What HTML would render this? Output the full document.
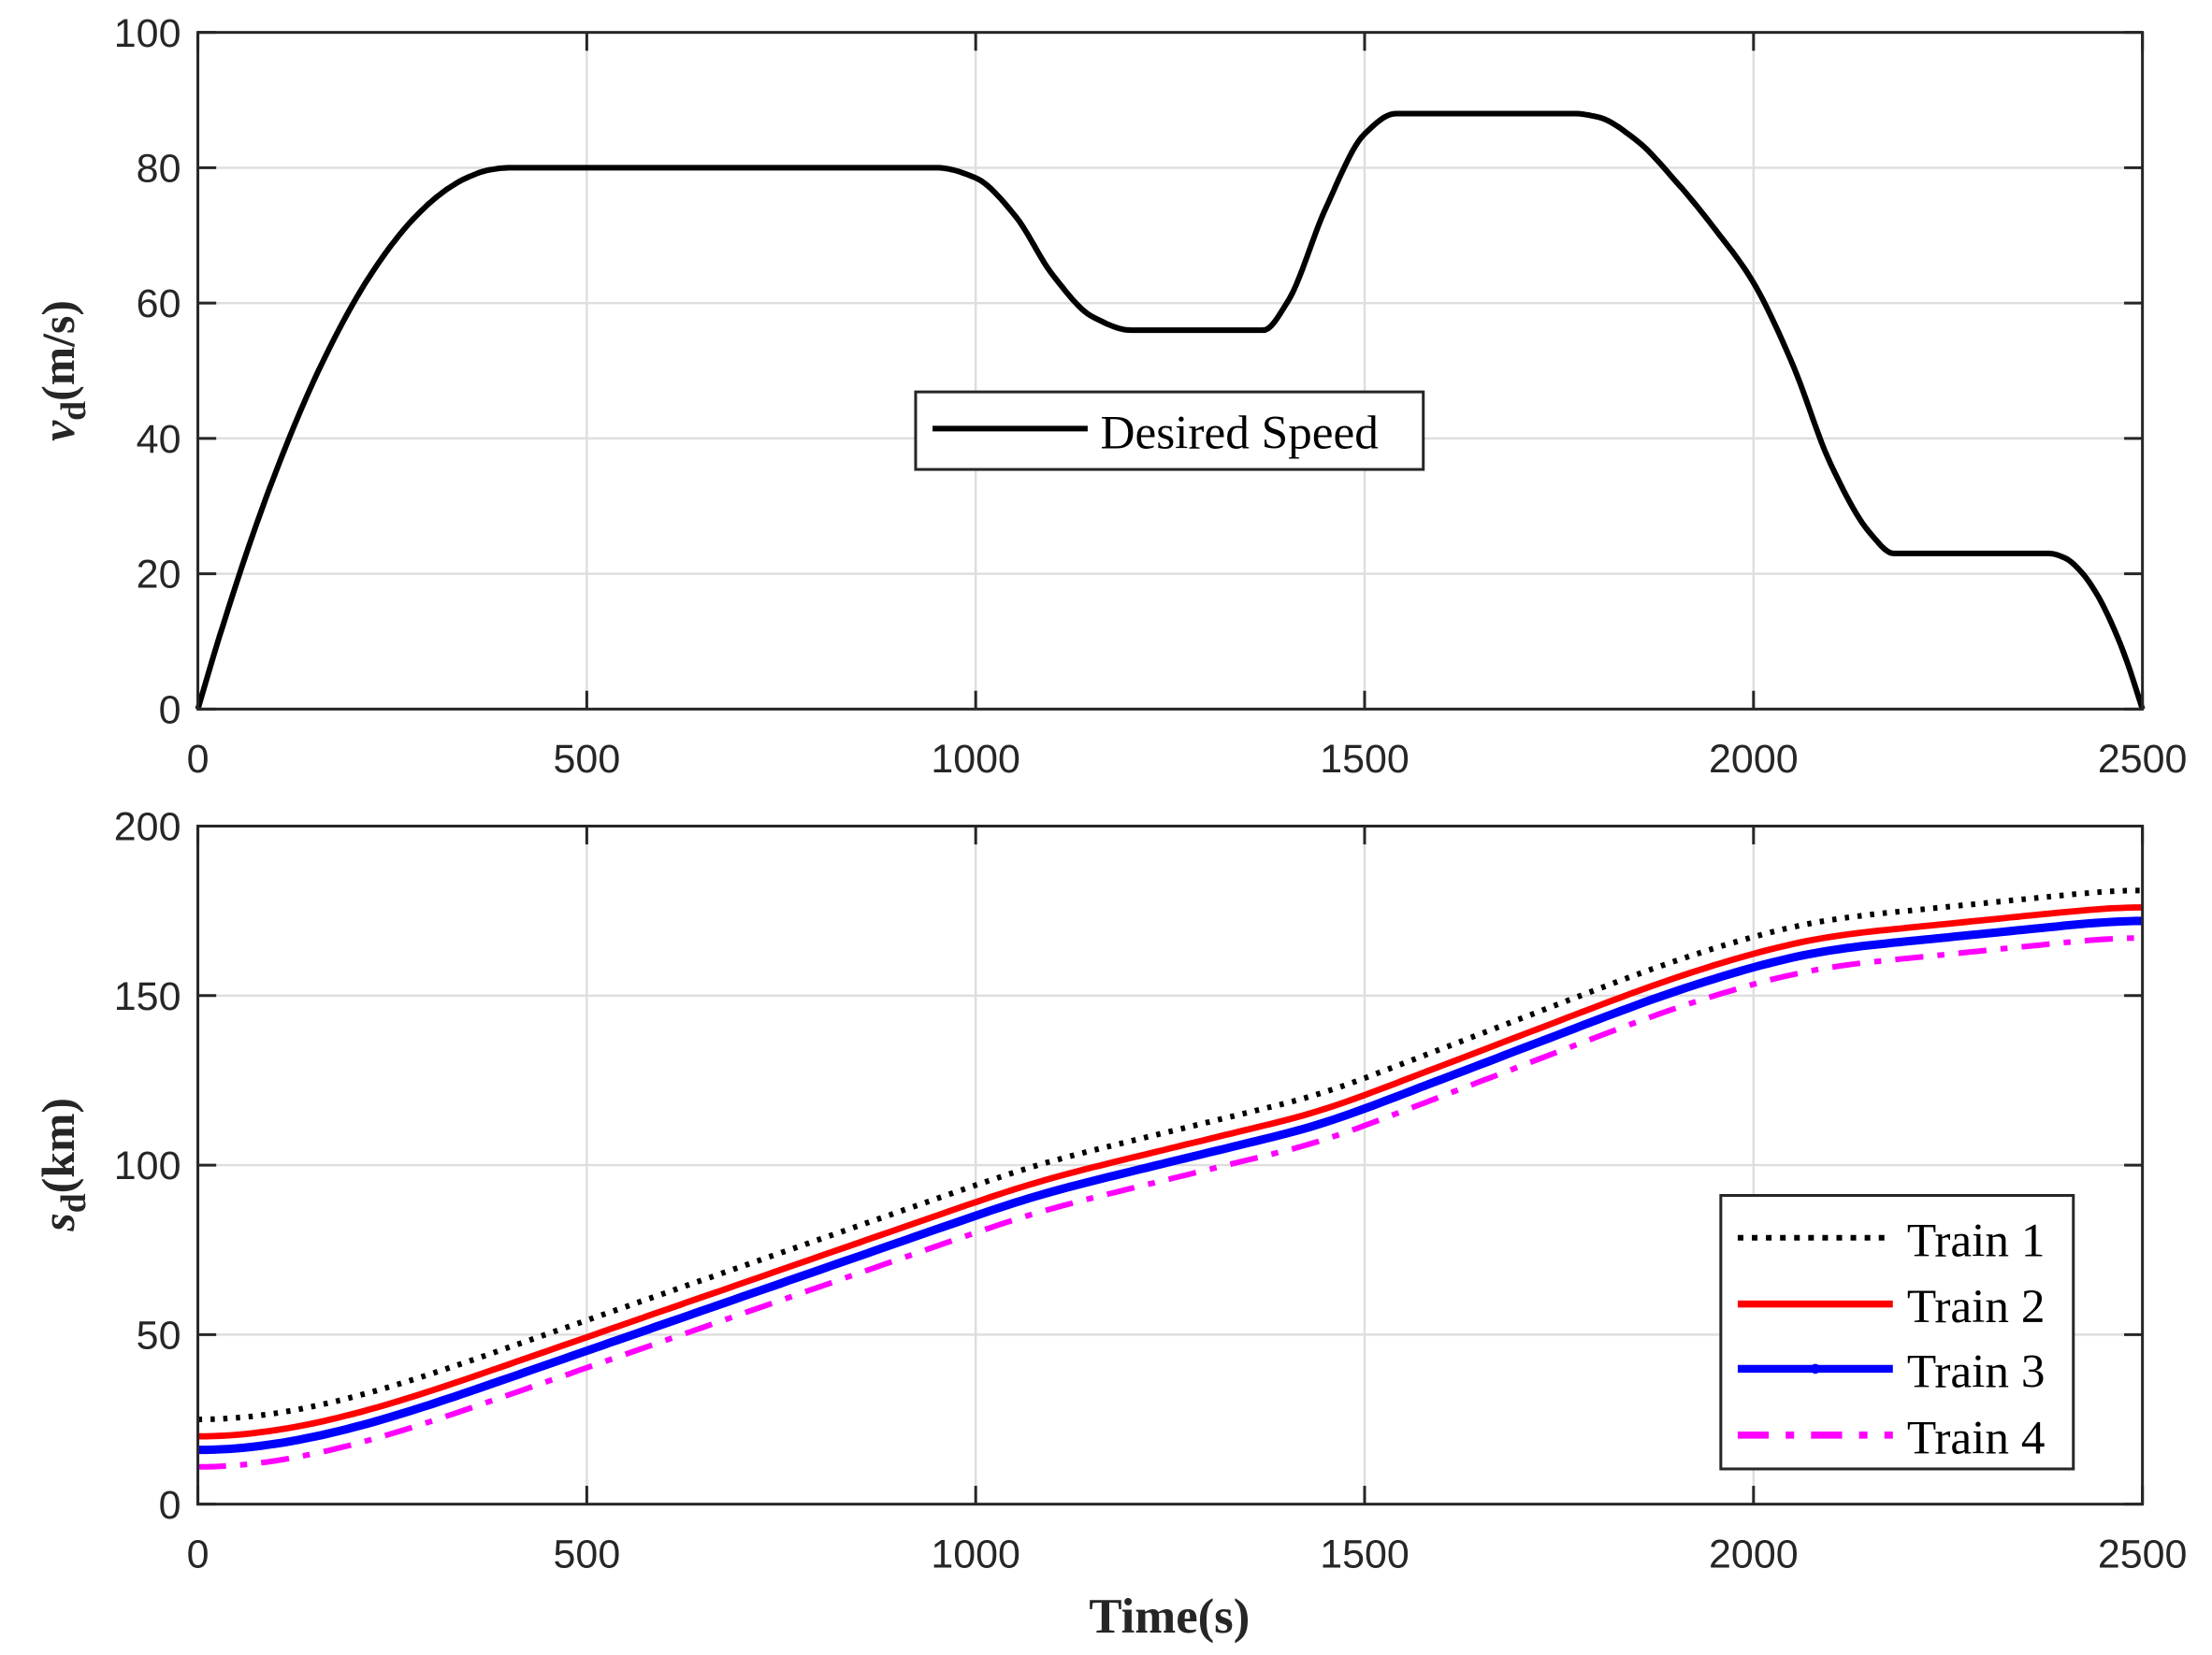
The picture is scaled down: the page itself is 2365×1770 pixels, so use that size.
<!DOCTYPE html>
<html><head><style>html,body{margin:0;padding:0;background:#fff}svg{display:block}</style></head>
<body>
<svg id="s" width="2365" height="1770" viewBox="0 0 1568 1174" xmlns="http://www.w3.org/2000/svg">
<rect width="1568" height="1174" fill="#fff"/>
<g id="grid" stroke="#dedede" stroke-width="1.6"></g>
<g id="curves" fill="none" stroke-linejoin="round"></g>
<g id="axes" stroke="#262626" stroke-width="2" fill="none"></g>
<g id="labels" font-family="Liberation Sans, sans-serif" font-size="28.5" fill="#262626"></g>
<g font-family="Liberation Serif, serif" font-weight="bold" font-size="33" fill="#262626">
<text transform="translate(52,263) rotate(-90)" text-anchor="middle"><tspan font-style="italic">v</tspan><tspan font-size="25" dy="8">d</tspan><tspan dy="-8">(m/s)</tspan></text>
<text transform="translate(52,826) rotate(-90)" text-anchor="middle"><tspan font-style="italic">s</tspan><tspan font-size="25" dy="8">d</tspan><tspan dy="-8">(km)</tspan></text>
<text x="829" y="1158" font-size="35" text-anchor="middle">Time(s)</text>
</g>
<g font-family="Liberation Serif, serif" font-size="34" fill="#000">
<rect x="649" y="278" width="360" height="55" fill="#fff" stroke="#262626" stroke-width="2"/>
<line x1="661" y1="304" x2="771" y2="304" stroke="#000" stroke-width="4"/>
<text x="780" y="318">Desired Speed</text>
<rect x="1220" y="848" width="250" height="194" fill="#fff" stroke="#262626" stroke-width="2"/>
<line x1="1232" y1="878" x2="1342" y2="878" stroke="#000" stroke-width="4" stroke-dasharray="4,6"/>
<text x="1352" y="891">Train 1</text>
<line x1="1232" y1="925" x2="1342" y2="925" stroke="#f00" stroke-width="5"/>
<text x="1352" y="938">Train 2</text>
<line x1="1232" y1="971" x2="1342" y2="971" stroke="#00f" stroke-width="5.5"/>
<circle cx="1287" cy="971" r="3.5" fill="#00f"/>
<text x="1352" y="984">Train 3</text>
<line x1="1232" y1="1018" x2="1342" y2="1018" stroke="#f0f" stroke-width="5" stroke-dasharray="22,12,6,12"/>
<text x="1352" y="1031">Train 4</text>
</g>
</svg>
<script>
const NS="http://www.w3.org/2000/svg";
function el(p,t,a){const e=document.createElementNS(NS,t);for(const k in a)e.setAttribute(k,a[k]);document.getElementById(p).appendChild(e);return e;}
const X0=140,X1=1519;const tx=t=>X0+t*(X1-X0)/2500;
const T=[[23,503,100,20],[586,1067,200,50]];
T.forEach(([yt,yb,ymax,step])=>{
 for(let t=500;t<2500;t+=500)el('grid','line',{x1:tx(t),x2:tx(t),y1:yt,y2:yb});
 for(let v=step;v<ymax;v+=step){const y=yb-v*(yb-yt)/ymax;el('grid','line',{x1:X0,x2:X1,y1:y,y2:y});}
 el('axes','rect',{x:X0,y:yt,width:X1-X0,height:yb-yt});
 for(let t=0;t<=2500;t+=500){const x=tx(t);el('axes','line',{x1:x,x2:x,y1:yb,y2:yb-13});el('axes','line',{x1:x,x2:x,y1:yt,y2:yt+13});
  const e=el('labels','text',{x:x,y:yb+45,'text-anchor':'middle'});e.textContent=t;}
 for(let v=0;v<=ymax;v+=step){const y=yb-v*(yb-yt)/ymax;el('axes','line',{x1:X0,x2:X0+13,y1:y,y2:y});el('axes','line',{x1:X1,x2:X1-13,y1:y,y2:y});
  const e=el('labels','text',{x:X0-12,y:y+10,'text-anchor':'end'});e.textContent=v;}
});
const P=[];
for(let t=0;t<400;t+=25)P.push([t,80*(1-Math.pow(1-t/400,2))]);
[[400,80],[950,80],[1000,78.5],[1050,73],[1100,64],[1150,58],[1200,56],[1370,56],[1400,60],[1450,74],[1500,85],[1540,88],[1770,88],[1800,87.5],[1850,84],[1900,78],[1950,71],[2000,63],[2050,51],[2100,36],[2150,26],[2180,23],[2380,23]].forEach(p=>P.push(p));
for(let t=2400;t<=2500;t+=20)P.push([t,23*(1-Math.pow((t-2380)/120,2))]);
const n=P.length,h=[],d=[],m=new Array(n).fill(0);
for(let i=0;i<n-1;i++){h[i]=P[i+1][0]-P[i][0];d[i]=(P[i+1][1]-P[i][1])/h[i];}
m[0]=d[0];m[n-1]=d[n-2];
for(let i=1;i<n-1;i++){if(d[i-1]*d[i]<=0)m[i]=0;else{const w1=2*h[i]+h[i-1],w2=h[i]+2*h[i-1];m[i]=(w1+w2)/(w1/d[i-1]+w2/d[i]);}}
function vAt(t){let i=0;while(i<n-2&&t>P[i+1][0])i++;const s=(t-P[i][0])/h[i],s2=s*s,s3=s2*s;
 return (2*s3-3*s2+1)*P[i][1]+(s3-2*s2+s)*h[i]*m[i]+(-2*s3+3*s2)*P[i+1][1]+(s3-s2)*h[i]*m[i+1];}
const vp=[];for(let t=0;t<=2500;t+=4)vp.push(tx(t).toFixed(1)+','+(503-vAt(t)*4.8).toFixed(1));
el('curves','path',{d:'M'+vp.join(' L'),stroke:'#000','stroke-width':4});
const cum=[];let s=0;for(let t=0;t<=2500;t+=10){cum.push([t,s]);s+=vAt(t+5)*10;}
const tot=s;
[[25,181,'#000',4,'3,6'],[20,176,'#f00',4.5,''],[16,172,'#00f',6,''],[11,167,'#f0f',4,'20,10,5,10']].forEach(([a,b,c,w,da])=>{
 const pts=cum.map(([t,q])=>tx(t).toFixed(1)+','+(1067-(a+(b-a)*q/tot)*2.405).toFixed(1));
 const at={d:'M'+pts.join(' L'),stroke:c,'stroke-width':w};if(da)at['stroke-dasharray']=da;el('curves','path',at);
});
</script>
</body></html>
